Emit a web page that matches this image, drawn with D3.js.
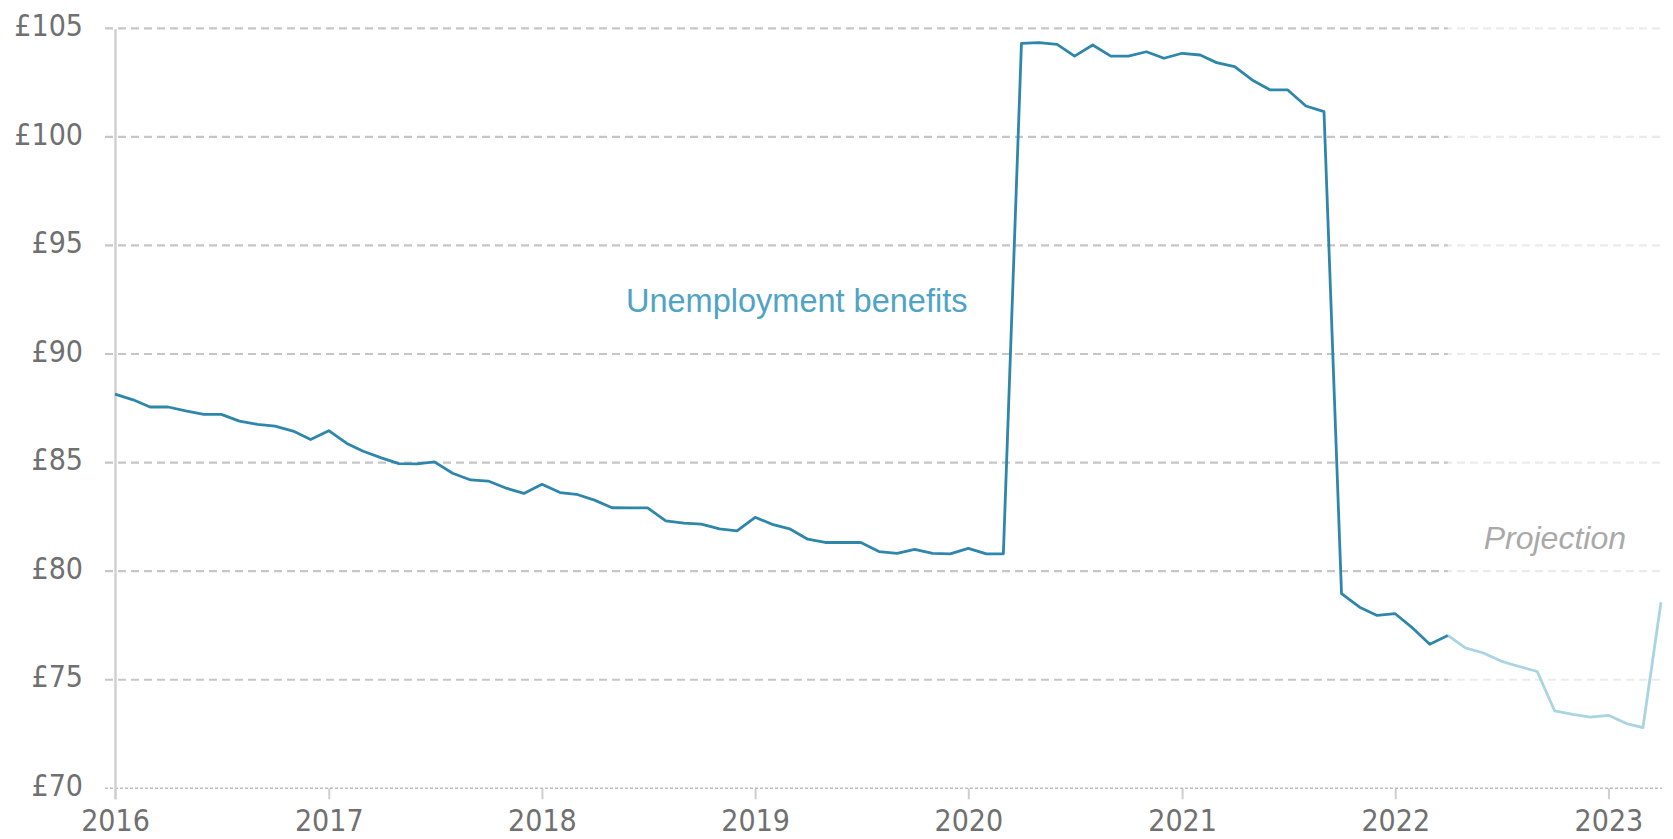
<!DOCTYPE html>
<html>
<head>
<meta charset="utf-8">
<script src="https://cdn.jsdelivr.net/npm/d3@7"></script>
<style>
  html, body { margin: 0; padding: 0; background: #fff; }
  svg { display: block; }
</style>
</head>
<body>
<svg id="chart" width="1673" height="839"></svg>
<script>
// ---- Data ----
const startMonth = "2016-01";
const values = [
  88.15, 87.89, 87.56, 87.56, 87.38, 87.22, 87.22, 86.91, 86.76, 86.68, 86.45, 86.06,
  86.47, 85.88, 85.52, 85.22, 84.95, 84.94, 85.03, 84.51, 84.20, 84.15, 83.82, 83.58,
  84.00, 83.62, 83.54, 83.27, 82.92, 82.91, 82.91, 82.32, 82.21, 82.17, 81.95, 81.86,
  82.48, 82.14, 81.95, 81.47, 81.32, 81.32, 81.32, 80.90, 80.82, 81.00, 80.82, 80.80,
  81.05, 80.80, 80.80, 104.31, 104.34, 104.26, 103.72, 104.23, 103.72, 103.72, 103.92, 103.62,
  103.85, 103.77, 103.42, 103.23, 102.62, 102.16, 102.16, 101.42, 101.16, 78.96, 78.34, 77.96,
  78.04, 77.35, 76.63, 77.04, 76.47, 76.23, 75.86, 75.61, 75.38, 73.56, 73.40, 73.28,
  73.36, 72.98, 72.79, 78.57
];
const projectionStart = "2022-04";
const yTickValues = [70, 75, 80, 85, 90, 95, 100, 105];
const xTickYears = [2016, 2017, 2018, 2019, 2020, 2021, 2022, 2023];
const seriesLabel = "Unemployment benefits";
const projectionLabel = "Projection";

// ---- Build dates ----
const parseMonth = d3.timeParse("%Y-%m");
const start = parseMonth(startMonth);
const data = values.map((v, i) => ({ date: d3.timeMonth.offset(start, i), value: v }));
const projDate = parseMonth(projectionStart);
const actual = data.filter(d => d.date <= projDate);
const projected = data.filter(d => d.date >= projDate);

// ---- Scales ----
const svg = d3.select("#chart");
const x = d3.scaleTime()
  .domain([data[0].date, data[data.length - 1].date])
  .range([115, 1661]);
const y = d3.scaleLinear().domain([70, 105]).range([788.3, 28.3]);

const tickFont = "'DejaVu Sans Condensed', 'Liberation Sans Narrow', sans-serif";
const textFont = "'Liberation Sans', Arial, sans-serif";

// ---- Gridlines ----
svg.append("g").selectAll("line")
  .data(yTickValues.filter(d => d > 70))
  .join("line")
  .attr("x1", 105).attr("x2", 1662)
  .attr("y1", d => y(d)).attr("y2", d => y(d))
  .attr("stroke", "#c6c6c6")
  .attr("stroke-width", 2.2)
  .attr("stroke-dasharray", "8,5");

// ---- Projection fade overlay ----
svg.append("rect")
  .attr("x", x(projDate))
  .attr("y", 0)
  .attr("width", 1673 - x(projDate))
  .attr("height", y(70) - 4)
  .attr("fill", "#fff")
  .attr("opacity", 0.65);

// ---- X axis ----
const xAxis = d3.axisBottom(x)
  .tickValues(xTickYears.map(yr => new Date(yr, 0, 1)))
  .tickFormat(d3.timeFormat("%Y"))
  .tickSize(11)
  .tickPadding(10);
const gx = svg.append("g")
  .attr("transform", `translate(0,${y(70)})`)
  .call(xAxis);
gx.select(".domain").remove();
gx.selectAll(".tick line").attr("stroke", "#cfcfcf").attr("stroke-width", 2);
gx.selectAll(".tick text")
  .attr("fill", "#707070")
  .style("font-family", tickFont)
  .style("font-size", "30px");

// dashed baseline
svg.append("line")
  .attr("x1", 105).attr("x2", 1662)
  .attr("y1", y(70)).attr("y2", y(70))
  .attr("stroke", "#bdbdbd")
  .attr("stroke-width", 1.6)
  .attr("stroke-dasharray", "3,2");

// ---- Y axis ----
const yAxis = d3.axisLeft(y)
  .tickValues(yTickValues)
  .tickFormat(d => "£" + d)
  .tickSize(0)
  .tickPadding(32);
const gy = svg.append("g")
  .attr("transform", `translate(115,0)`)
  .call(yAxis);
gy.select(".domain").remove();
gy.selectAll(".tick text")
  .attr("fill", "#707070")
  .attr("dy", "0.24em")
  .style("font-family", tickFont)
  .style("font-size", "30px");

svg.append("line")
  .attr("x1", 115.5).attr("x2", 115.5)
  .attr("y1", y(105) + 1).attr("y2", y(70) + 11)
  .attr("stroke", "#d0d0d0")
  .attr("stroke-width", 2.5);

// ---- Lines ----
const line = d3.line().x(d => x(d.date)).y(d => y(d.value));

svg.append("path")
  .datum(projected)
  .attr("d", line)
  .attr("fill", "none")
  .attr("stroke", "#a9d4e2")
  .attr("stroke-width", 2.8)
  .attr("stroke-linejoin", "round");

svg.append("path")
  .datum(actual)
  .attr("d", line)
  .attr("fill", "none")
  .attr("stroke", "#2e87ab")
  .attr("stroke-width", 2.8)
  .attr("stroke-linejoin", "round");

// ---- Annotations ----
svg.append("text")
  .attr("x", 626).attr("y", 312)
  .attr("fill", "#4fa3c5")
  .style("font-family", textFont)
  .style("font-size", "32.5px")
  .text(seriesLabel);

svg.append("text")
  .attr("x", 1626).attr("y", 549)
  .attr("text-anchor", "end")
  .attr("fill", "#a9a9a9")
  .style("font-family", textFont)
  .style("font-size", "32px")
  .style("font-style", "italic")
  .text(projectionLabel);
</script>
</body>
</html>
